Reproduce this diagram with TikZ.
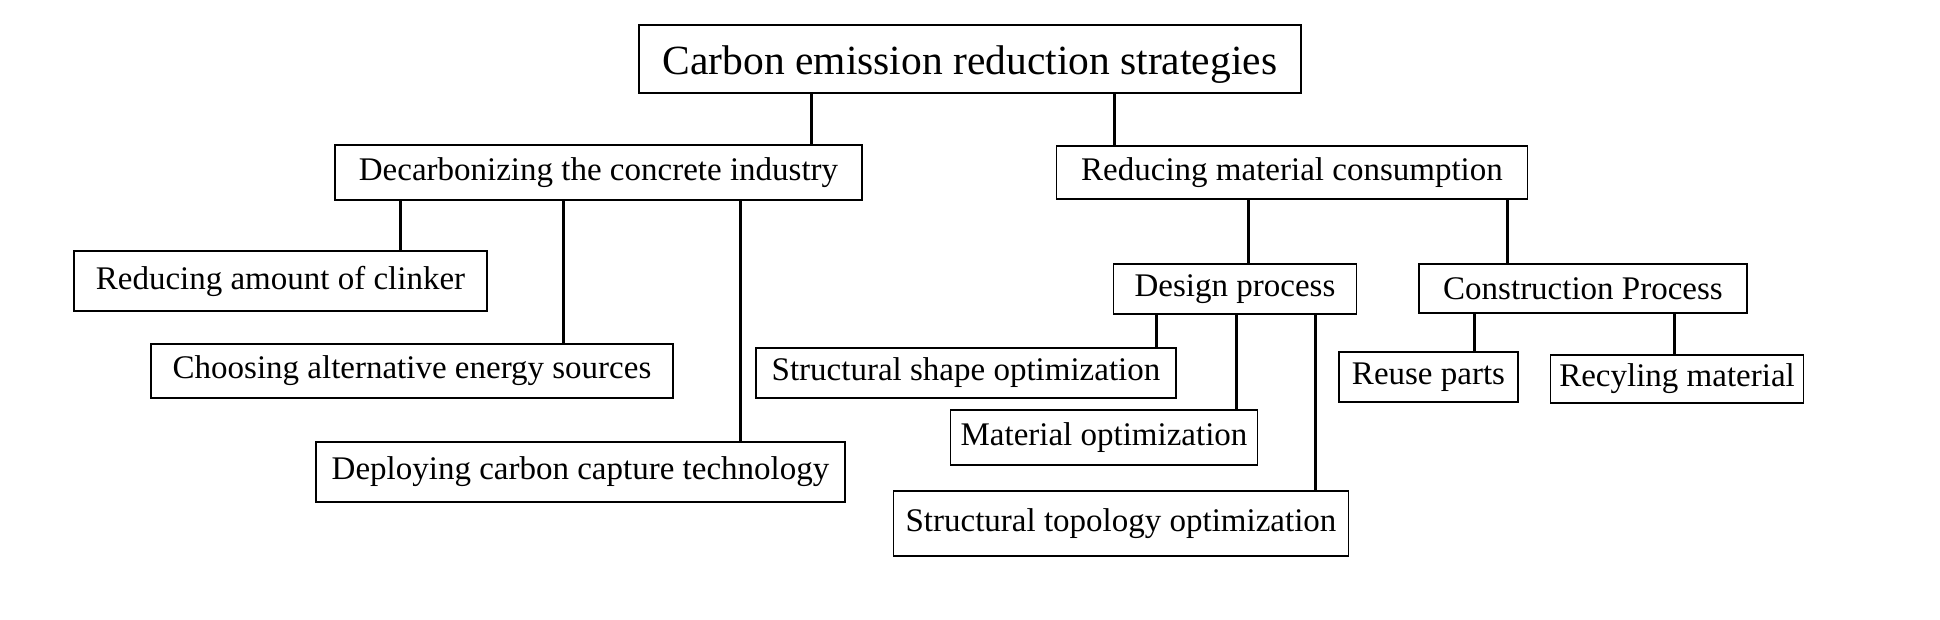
\documentclass[tikz,border=0pt]{standalone}
\usepackage{fontspec}
\setmainfont{Liberation Serif}
\begin{document}
\begin{tikzpicture}[x=1pt,y=-1pt,
  box/.style={draw=black,line width=1.8pt,rectangle,inner sep=0pt,align=center,
    font=\fontsize{33}{38}\selectfont},
  bigbox/.style={box,font=\fontsize{41.5}{46}\selectfont,text height=31pt,text depth=0pt},
  link/.style={draw=black,line width=3pt}]
\useasboundingbox[fill=white] (0,0) rectangle (1940,619);
\node[bigbox,minimum width=662pt,minimum height=68pt] (top) at (970,59) {Carbon emission reduction strategies};
\node[box,minimum width=527pt,minimum height=55pt] (decarb) at (598.5,172.5) {Decarbonizing the concrete industry};
\node[box,minimum width=471pt,minimum height=53pt] (rmc) at (1292,172.5) {Reducing material consumption};
\node[box,minimum width=413pt,minimum height=60pt] (clinker) at (280.5,281) {Reducing amount of clinker};
\node[box,minimum width=522pt,minimum height=54pt] (energy) at (412,371) {Choosing alternative energy sources};
\node[box,minimum width=529pt,minimum height=60pt] (capture) at (580.5,472) {Deploying carbon capture technology};
\node[box,minimum width=243pt,minimum height=50pt] (design) at (1235,288.7) {Design process};
\node[box,minimum width=328pt,minimum height=49pt] (constr) at (1583,288.4) {Construction Process};
\node[box,minimum width=420pt,minimum height=50pt] (shape) at (966,373) {Structural shape optimization};
\node[box,minimum width=307pt,minimum height=55pt] (matopt) at (1104,437.5) {Material optimization};
\node[box,minimum width=455pt,minimum height=65pt] (topo) at (1121,523.5) {Structural topology optimization};
\node[box,minimum width=179pt,minimum height=50pt] (reuse) at (1428.5,377) {Reuse parts};
\node[box,minimum width=253pt,minimum height=48pt] (recyc) at (1677,379) {Recyling material};
% connector x positions
\coordinate (xa) at (811,0);
\coordinate (xb) at (1114,0);
\coordinate (xc) at (400,0);
\coordinate (xd) at (563,0);
\coordinate (xe) at (740,0);
\coordinate (xf) at (1248,0);
\coordinate (xg) at (1507,0);
\coordinate (xh) at (1156,0);
\coordinate (xi) at (1236,0);
\coordinate (xj) at (1315,0);
\coordinate (xk) at (1474,0);
\coordinate (xl) at (1674,0);
\draw[link] (top.south -| xa) -- (decarb.north -| xa);
\draw[link] (top.south -| xb) -- (rmc.north -| xb);
\draw[link] (decarb.south -| xc) -- (clinker.north -| xc);
\draw[link] (decarb.south -| xd) -- (energy.north -| xd);
\draw[link] (decarb.south -| xe) -- (capture.north -| xe);
\draw[link] (rmc.south -| xf) -- (design.north -| xf);
\draw[link] (rmc.south -| xg) -- (constr.north -| xg);
\draw[link] (design.south -| xh) -- (shape.north -| xh);
\draw[link] (design.south -| xi) -- (matopt.north -| xi);
\draw[link] (design.south -| xj) -- (topo.north -| xj);
\draw[link] (constr.south -| xk) -- (reuse.north -| xk);
\draw[link] (constr.south -| xl) -- (recyc.north -| xl);
\end{tikzpicture}
\end{document}
